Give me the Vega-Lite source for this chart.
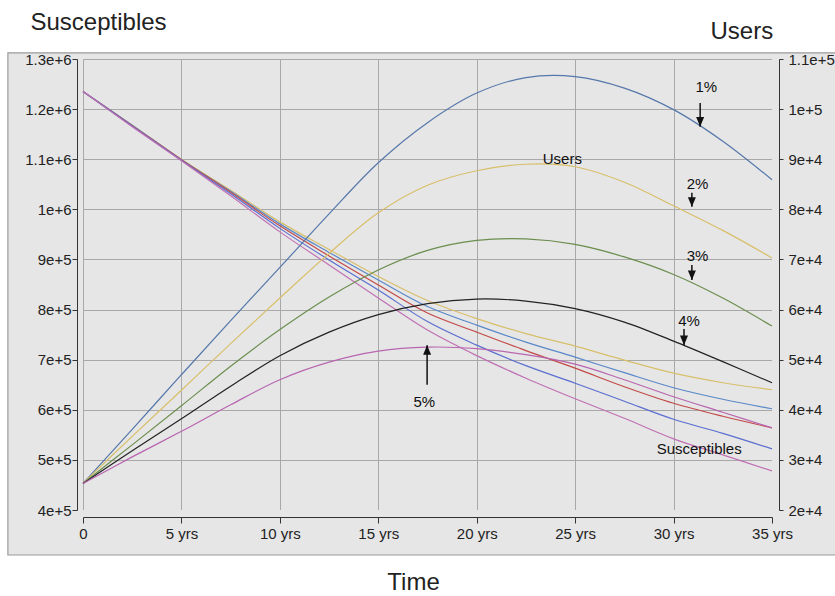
{
  "$schema": "https://vega.github.io/schema/vega-lite/v6.json",
  "width": 689,
  "height": 451,
  "autosize": {"type": "none"},
  "padding": {"left": 83, "top": 59, "right": 63, "bottom": 86},
  "background": "white",
  "config": {
    "view": {"fill": "#e6e6e6", "stroke": null},
    "font": "Liberation Sans",
    "axis": {
      "labelFont": "Liberation Sans",
      "titleFont": "Liberation Sans",
      "labelFontSize": 15,
      "labelColor": "#222222",
      "titleColor": "#222222",
      "titleFontWeight": "normal",
      "titleFontSize": 24,
      "domainColor": "#333333",
      "tickColor": "#333333",
      "gridColor": "#a8a8a8",
      "gridOpacity": 1,
      "labelFlush": false,
      "labelOverlap": false
    }
  },
  "datasets": {
    "curves": [
      {"kind": "S", "series": "S1", "t": 0, "v": 1235000}, {"kind": "S", "series": "S1", "t": 2.5, "v": 1168000}, {"kind": "S", "series": "S1", "t": 5, "v": 1100000}, {"kind": "S", "series": "S1", "t": 7.5, "v": 1038000}, {"kind": "S", "series": "S1", "t": 10, "v": 975000}, {"kind": "S", "series": "S1", "t": 12.5, "v": 920000}, {"kind": "S", "series": "S1", "t": 15, "v": 866000}, {"kind": "S", "series": "S1", "t": 17.5, "v": 818000}, {"kind": "S", "series": "S1", "t": 20, "v": 782000}, {"kind": "S", "series": "S1", "t": 22.5, "v": 752000}, {"kind": "S", "series": "S1", "t": 25, "v": 727000}, {"kind": "S", "series": "S1", "t": 27.5, "v": 699000}, {"kind": "S", "series": "S1", "t": 30, "v": 673000}, {"kind": "S", "series": "S1", "t": 32.5, "v": 654000}, {"kind": "S", "series": "S1", "t": 35, "v": 640000},
      {"kind": "S", "series": "S2", "t": 0, "v": 1235000}, {"kind": "S", "series": "S2", "t": 2.5, "v": 1168000}, {"kind": "S", "series": "S2", "t": 5, "v": 1099000}, {"kind": "S", "series": "S2", "t": 7.5, "v": 1036000}, {"kind": "S", "series": "S2", "t": 10, "v": 971000}, {"kind": "S", "series": "S2", "t": 12.5, "v": 914000}, {"kind": "S", "series": "S2", "t": 15, "v": 859000}, {"kind": "S", "series": "S2", "t": 17.5, "v": 806000}, {"kind": "S", "series": "S2", "t": 20, "v": 769000}, {"kind": "S", "series": "S2", "t": 22.5, "v": 735000}, {"kind": "S", "series": "S2", "t": 25, "v": 705000}, {"kind": "S", "series": "S2", "t": 27.5, "v": 674000}, {"kind": "S", "series": "S2", "t": 30, "v": 644000}, {"kind": "S", "series": "S2", "t": 32.5, "v": 621000}, {"kind": "S", "series": "S2", "t": 35, "v": 602000},
      {"kind": "S", "series": "S3", "t": 0, "v": 1235000}, {"kind": "S", "series": "S3", "t": 2.5, "v": 1167000}, {"kind": "S", "series": "S3", "t": 5, "v": 1099000}, {"kind": "S", "series": "S3", "t": 7.5, "v": 1034000}, {"kind": "S", "series": "S3", "t": 10, "v": 967000}, {"kind": "S", "series": "S3", "t": 12.5, "v": 907000}, {"kind": "S", "series": "S3", "t": 15, "v": 849000}, {"kind": "S", "series": "S3", "t": 17.5, "v": 793000}, {"kind": "S", "series": "S3", "t": 20, "v": 755000}, {"kind": "S", "series": "S3", "t": 22.5, "v": 718000}, {"kind": "S", "series": "S3", "t": 25, "v": 683000}, {"kind": "S", "series": "S3", "t": 27.5, "v": 646000}, {"kind": "S", "series": "S3", "t": 30, "v": 613000}, {"kind": "S", "series": "S3", "t": 32.5, "v": 587000}, {"kind": "S", "series": "S3", "t": 35, "v": 564000},
      {"kind": "S", "series": "S4", "t": 0, "v": 1235000}, {"kind": "S", "series": "S4", "t": 2.5, "v": 1166000}, {"kind": "S", "series": "S4", "t": 5, "v": 1098000}, {"kind": "S", "series": "S4", "t": 7.5, "v": 1031000}, {"kind": "S", "series": "S4", "t": 10, "v": 962000}, {"kind": "S", "series": "S4", "t": 12.5, "v": 899000}, {"kind": "S", "series": "S4", "t": 15, "v": 839000}, {"kind": "S", "series": "S4", "t": 17.5, "v": 776000}, {"kind": "S", "series": "S4", "t": 20, "v": 729000}, {"kind": "S", "series": "S4", "t": 22.5, "v": 688000}, {"kind": "S", "series": "S4", "t": 25, "v": 653000}, {"kind": "S", "series": "S4", "t": 27.5, "v": 617000}, {"kind": "S", "series": "S4", "t": 30, "v": 581000}, {"kind": "S", "series": "S4", "t": 32.5, "v": 553000}, {"kind": "S", "series": "S4", "t": 35, "v": 522000},
      {"kind": "S", "series": "S5", "t": 0, "v": 1235000}, {"kind": "S", "series": "S5", "t": 2.5, "v": 1165000}, {"kind": "S", "series": "S5", "t": 5, "v": 1097000}, {"kind": "S", "series": "S5", "t": 7.5, "v": 1027000}, {"kind": "S", "series": "S5", "t": 10, "v": 955000}, {"kind": "S", "series": "S5", "t": 12.5, "v": 889000}, {"kind": "S", "series": "S5", "t": 15, "v": 823000}, {"kind": "S", "series": "S5", "t": 17.5, "v": 759000}, {"kind": "S", "series": "S5", "t": 20, "v": 708000}, {"kind": "S", "series": "S5", "t": 22.5, "v": 663000}, {"kind": "S", "series": "S5", "t": 25, "v": 622000}, {"kind": "S", "series": "S5", "t": 27.5, "v": 583000}, {"kind": "S", "series": "S5", "t": 30, "v": 542000}, {"kind": "S", "series": "S5", "t": 32.5, "v": 510000}, {"kind": "S", "series": "S5", "t": 35, "v": 478000},
      {"kind": "U", "series": "U1", "t": 0, "v": 25300}, {"kind": "U", "series": "U1", "t": 2.5, "v": 36100}, {"kind": "U", "series": "U1", "t": 5, "v": 47000}, {"kind": "U", "series": "U1", "t": 7.5, "v": 57800}, {"kind": "U", "series": "U1", "t": 10, "v": 68400}, {"kind": "U", "series": "U1", "t": 12.5, "v": 79100}, {"kind": "U", "series": "U1", "t": 15, "v": 89300}, {"kind": "U", "series": "U1", "t": 17.5, "v": 97300}, {"kind": "U", "series": "U1", "t": 20, "v": 103200}, {"kind": "U", "series": "U1", "t": 22.5, "v": 106300}, {"kind": "U", "series": "U1", "t": 25, "v": 106500}, {"kind": "U", "series": "U1", "t": 27.5, "v": 104200}, {"kind": "U", "series": "U1", "t": 30, "v": 99900}, {"kind": "U", "series": "U1", "t": 32.5, "v": 93600}, {"kind": "U", "series": "U1", "t": 35, "v": 85900},
      {"kind": "U", "series": "U2", "t": 0, "v": 25300}, {"kind": "U", "series": "U2", "t": 2.5, "v": 34700}, {"kind": "U", "series": "U2", "t": 5, "v": 43900}, {"kind": "U", "series": "U2", "t": 7.5, "v": 53200}, {"kind": "U", "series": "U2", "t": 10, "v": 62300}, {"kind": "U", "series": "U2", "t": 12.5, "v": 71200}, {"kind": "U", "series": "U2", "t": 15, "v": 79300}, {"kind": "U", "series": "U2", "t": 17.5, "v": 84800}, {"kind": "U", "series": "U2", "t": 20, "v": 87700}, {"kind": "U", "series": "U2", "t": 22.5, "v": 89000}, {"kind": "U", "series": "U2", "t": 25, "v": 88500}, {"kind": "U", "series": "U2", "t": 27.5, "v": 85400}, {"kind": "U", "series": "U2", "t": 30, "v": 80700}, {"kind": "U", "series": "U2", "t": 32.5, "v": 75800}, {"kind": "U", "series": "U2", "t": 35, "v": 70300},
      {"kind": "U", "series": "U3", "t": 0, "v": 25300}, {"kind": "U", "series": "U3", "t": 2.5, "v": 33000}, {"kind": "U", "series": "U3", "t": 5, "v": 40800}, {"kind": "U", "series": "U3", "t": 7.5, "v": 48700}, {"kind": "U", "series": "U3", "t": 10, "v": 56000}, {"kind": "U", "series": "U3", "t": 12.5, "v": 62500}, {"kind": "U", "series": "U3", "t": 15, "v": 67900}, {"kind": "U", "series": "U3", "t": 17.5, "v": 71800}, {"kind": "U", "series": "U3", "t": 20, "v": 73800}, {"kind": "U", "series": "U3", "t": 22.5, "v": 74100}, {"kind": "U", "series": "U3", "t": 25, "v": 73000}, {"kind": "U", "series": "U3", "t": 27.5, "v": 70500}, {"kind": "U", "series": "U3", "t": 30, "v": 67000}, {"kind": "U", "series": "U3", "t": 32.5, "v": 62300}, {"kind": "U", "series": "U3", "t": 35, "v": 56700},
      {"kind": "U", "series": "U4", "t": 0, "v": 25300}, {"kind": "U", "series": "U4", "t": 2.5, "v": 31800}, {"kind": "U", "series": "U4", "t": 5, "v": 38200}, {"kind": "U", "series": "U4", "t": 7.5, "v": 44700}, {"kind": "U", "series": "U4", "t": 10, "v": 50800}, {"kind": "U", "series": "U4", "t": 12.5, "v": 55500}, {"kind": "U", "series": "U4", "t": 15, "v": 59000}, {"kind": "U", "series": "U4", "t": 17.5, "v": 61200}, {"kind": "U", "series": "U4", "t": 20, "v": 62100}, {"kind": "U", "series": "U4", "t": 22.5, "v": 61700}, {"kind": "U", "series": "U4", "t": 25, "v": 60200}, {"kind": "U", "series": "U4", "t": 27.5, "v": 57500}, {"kind": "U", "series": "U4", "t": 30, "v": 53700}, {"kind": "U", "series": "U4", "t": 32.5, "v": 49600}, {"kind": "U", "series": "U4", "t": 35, "v": 45400},
      {"kind": "U", "series": "U5", "t": 0, "v": 25300}, {"kind": "U", "series": "U5", "t": 2.5, "v": 30600}, {"kind": "U", "series": "U5", "t": 5, "v": 35700}, {"kind": "U", "series": "U5", "t": 7.5, "v": 41000}, {"kind": "U", "series": "U5", "t": 10, "v": 46000}, {"kind": "U", "series": "U5", "t": 12.5, "v": 49500}, {"kind": "U", "series": "U5", "t": 15, "v": 51700}, {"kind": "U", "series": "U5", "t": 17.5, "v": 52500}, {"kind": "U", "series": "U5", "t": 20, "v": 52200}, {"kind": "U", "series": "U5", "t": 22.5, "v": 51000}, {"kind": "U", "series": "U5", "t": 25, "v": 49100}, {"kind": "U", "series": "U5", "t": 27.5, "v": 46000}, {"kind": "U", "series": "U5", "t": 30, "v": 42600}, {"kind": "U", "series": "U5", "t": 32.5, "v": 39500}, {"kind": "U", "series": "U5", "t": 35, "v": 36400}
    ],
    "notes": [
      {"label": "1%", "t": 31.66, "v": 1245000},
      {"label": "2%", "t": 31.22, "v": 1051000},
      {"label": "3%", "t": 31.22, "v": 906000},
      {"label": "4%", "t": 30.79, "v": 778000},
      {"label": "5%", "t": 17.34, "v": 616000},
      {"label": "Users", "t": 24.35, "v": 1100000},
      {"label": "Susceptibles", "t": 31.3, "v": 521000}
    ],
    "arrows": [
      {"t": 31.35, "from": 1212000, "tip": 1165000, "dir": "down"},
      {"t": 30.93, "from": 1033000, "tip": 1005000, "dir": "down"},
      {"t": 30.93, "from": 889000, "tip": 859000, "dir": "down"},
      {"t": 30.53, "from": 761000, "tip": 729000, "dir": "down"},
      {"t": 17.48, "from": 650000, "tip": 729000, "dir": "up"}
    ]
  },
  "resolve": {"scale": {"y": "independent"}, "axis": {"x": "independent", "y": "independent"}},
  "layer": [
    {
      "data": {"values": [{}]},
      "layer": [
        {
          "mark": {"type": "rect", "fill": "#e6e6e6", "strokeWidth": 0, "clip": false},
          "encoding": {
            "x": {"datum": -3.815, "type": "quantitative", "scale": {"domain": [0, 35], "nice": false, "zero": false},
              "axis": {"orient": "top", "grid": true, "domain": false, "ticks": false, "labels": false, "title": null, "values": [0, 5, 10, 15, 20, 25, 30, 35], "zindex": 0}},
            "x2": {"datum": 0},
            "y": {"datum": 310200, "type": "quantitative", "scale": {"domain": [400000, 1300000], "nice": false, "zero": false},
              "axis": {"orient": "left", "grid": true, "domain": false, "ticks": false, "labels": false, "title": null, "values": [400000, 500000, 600000, 700000, 800000, 900000, 1000000, 1100000, 1200000, 1300000], "zindex": 0}},
            "y2": {"datum": 1312200}
          }
        },
        {
          "mark": {"type": "rect", "fill": "#e6e6e6", "strokeWidth": 0, "clip": false},
          "encoding": {
            "x": {"datum": 35, "type": "quantitative"},
            "x2": {"datum": 40},
            "y": {"datum": 310200, "type": "quantitative"},
            "y2": {"datum": 1312200}
          }
        },
        {
          "mark": {"type": "rect", "fill": "#e6e6e6", "strokeWidth": 0, "clip": false},
          "encoding": {
            "x": {"datum": 0, "type": "quantitative"},
            "x2": {"datum": 35},
            "y": {"datum": 1300000, "type": "quantitative"},
            "y2": {"datum": 1312200}
          }
        },
        {
          "mark": {"type": "rect", "fill": "#e6e6e6", "strokeWidth": 0, "clip": false},
          "encoding": {
            "x": {"datum": 0, "type": "quantitative"},
            "x2": {"datum": 35},
            "y": {"datum": 310200, "type": "quantitative"},
            "y2": {"datum": 400000}
          }
        },
        {
          "mark": {"type": "rect", "filled": false, "stroke": "#9a9a9a", "strokeWidth": 1.2, "clip": false},
          "encoding": {
            "x": {"datum": -3.815, "type": "quantitative"},
            "x2": {"datum": 40},
            "y": {"datum": 310200, "type": "quantitative"},
            "y2": {"datum": 1312200}
          }
        }
      ]
    },
    {
      "data": {"name": "curves"},
      "transform": [{"filter": "datum.kind === 'S'"}],
      "mark": {"type": "line", "interpolate": "catmull-rom", "strokeWidth": 1.2},
      "encoding": {
        "x": {"field": "t", "type": "quantitative", "scale": {"domain": [0, 35], "nice": false, "zero": false},
          "axis": {"orient": "bottom", "offset": 7, "grid": false, "values": [0, 5, 10, 15, 20, 25, 30, 35],
            "labelExpr": "datum.value == 0 ? '0' : datum.value + ' yrs'", "tickSize": 6, "labelPadding": 3,
            "title": "Time", "titleX": 330, "titleY": 65, "titleAlign": "center", "titleBaseline": "middle", "zindex": 1}},
        "y": {"field": "v", "type": "quantitative", "scale": {"domain": [400000, 1300000], "nice": false, "zero": false},
          "axis": {"orient": "left", "offset": 6, "grid": false, "values": [400000, 500000, 600000, 700000, 800000, 900000, 1000000, 1100000, 1200000, 1300000],
            "format": ".2~e", "tickSize": 5, "labelPadding": 1, "title": "Susceptibles", "titleAngle": 0,
            "titleX": -47, "titleY": -37, "titleAlign": "left", "titleBaseline": "middle", "zindex": 1}},
        "color": {"field": "series", "type": "nominal",
          "scale": {"domain": ["S1", "S2", "S3", "S4", "S5", "U1", "U2", "U3", "U4", "U5"],
            "range": ["#d8bf6a", "#5a88c8", "#c24a48", "#5a6ed0", "#c070b4", "#5577aa", "#d8bf6a", "#6b8e4e", "#222222", "#b866b0"]},
          "legend": null}
      }
    },
    {
      "data": {"name": "curves"},
      "transform": [{"filter": "datum.kind === 'U'"}],
      "mark": {"type": "line", "interpolate": "catmull-rom", "strokeWidth": 1.2},
      "encoding": {
        "x": {"field": "t", "type": "quantitative", "scale": {"domain": [0, 35], "nice": false, "zero": false}, "axis": null},
        "y": {"field": "v", "type": "quantitative", "scale": {"domain": [20000, 110000], "nice": false, "zero": false},
          "axis": {"orient": "right", "offset": 7, "grid": false, "values": [20000, 30000, 40000, 50000, 60000, 70000, 80000, 90000, 100000, 110000],
            "format": ".2~e", "tickSize": 4, "labelPadding": 5, "title": "Users", "titleAngle": 0,
            "titleX": -69, "titleY": -28, "titleAlign": "left", "titleBaseline": "middle", "zindex": 1}},
        "color": {"field": "series", "type": "nominal",
          "scale": {"domain": ["S1", "S2", "S3", "S4", "S5", "U1", "U2", "U3", "U4", "U5"],
            "range": ["#d8bf6a", "#5a88c8", "#c24a48", "#5a6ed0", "#c070b4", "#5577aa", "#d8bf6a", "#6b8e4e", "#222222", "#b866b0"]},
          "legend": null}
      }
    },
    {
      "layer": [
        {
          "data": {"name": "arrows"},
          "mark": {"type": "rule", "color": "#111111", "strokeWidth": 1.5},
          "encoding": {
            "x": {"field": "t", "type": "quantitative", "scale": {"domain": [0, 35], "nice": false, "zero": false}, "axis": null},
            "y": {"field": "from", "type": "quantitative", "scale": {"domain": [400000, 1300000], "nice": false, "zero": false}, "axis": null},
            "y2": {"field": "tip"}
          }
        },
        {
          "data": {"name": "arrows"},
          "mark": {"type": "point", "filled": true, "color": "#111111", "opacity": 1, "strokeWidth": 0},
          "encoding": {
            "x": {"field": "t", "type": "quantitative", "axis": null},
            "y": {"field": "tip", "type": "quantitative", "axis": null},
            "shape": {"field": "dir", "type": "nominal",
              "scale": {"domain": ["down", "up"], "range": ["M-1,-2.4L1,-2.4L0,0Z", "M-1,2.4L1,2.4L0,0Z"]}, "legend": null},
            "size": {"value": 64}
          }
        },
        {
          "data": {"name": "notes"},
          "mark": {"type": "text", "font": "Liberation Sans", "fontSize": 15, "color": "#111111", "align": "center", "baseline": "middle"},
          "encoding": {
            "x": {"field": "t", "type": "quantitative", "axis": null},
            "y": {"field": "v", "type": "quantitative", "axis": null},
            "text": {"field": "label", "type": "nominal"}
          }
        }
      ]
    }
  ]
}
